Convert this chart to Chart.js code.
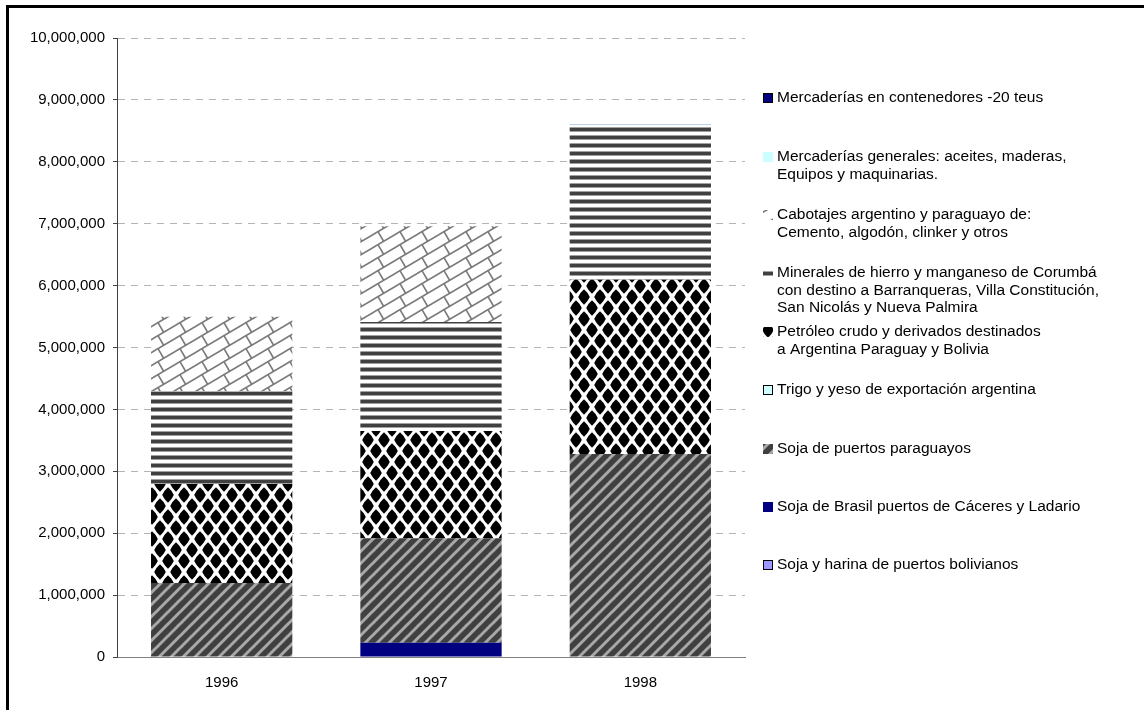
<!DOCTYPE html>
<html>
<head>
<meta charset="utf-8">
<script src="https://cdn.jsdelivr.net/npm/chart.js@4.4.0/dist/chart.umd.min.js"></script>
<style>
  html, body { margin: 0; padding: 0; background: #fff; }
  #contenedor { position: relative; width: 1144px; height: 710px; overflow: hidden; }
  #marco { position: absolute; left: 6px; top: 5px; width: 1300px; height: 900px; border: 3px solid #000; pointer-events: none; }
</style>
</head>
<body>
<div id="contenedor">
  <canvas id="grafico" width="1144" height="710"></canvas>
  <div id="marco"></div>
</div>
<script>
// datos (toneladas)
const anios = ['1996', '1997', '1998'];

const sojaBolivianos = [0, 0, 0];
const sojaBrasil = [0, 230000, 0];
const sojaParaguayos = [1195000, 1690000, 3280000];
const trigoYeso = [0, 0, 0];
const petroleo = [1600000, 1730000, 2815000];
const minerales = [1500000, 1760000, 2490000];
const cabotajes = [1200000, 1550000, 0];
const mercGenerales = [0, 0, 15000];
const contenedores = [0, 0, 3000];

const nombres = [
    ['Soja y harina de puertos bolivianos'],
    ['Soja de Brasil puertos de Cáceres y Ladario'],
    ['Soja de puertos paraguayos'],
    ['Trigo y yeso de exportación argentina'],
    ['Petróleo crudo y derivados destinados', 'a Argentina Paraguay y Bolivia'],
    ['Minerales de hierro y manganeso de Corumbá', 'con destino a Barranqueras, Villa Constitución,', 'San Nicolás y Nueva Palmira'],
    ['Cabotajes argentino y paraguayo de:', 'Cemento, algodón, clinker y otros'],
    ['Mercaderías generales: aceites, maderas,', 'Equipos y maquinarias.'],
    ['Mercaderías en contenedores -20 teus']
];

const yMax = 10000000;
const yPaso = 1000000;

var ctxGrafico = document.getElementById('grafico').getContext('2d');
var fuente = '"Liberation Sans", Arial, sans-serif';

function crearTrama(w, h, dibujar) {
    var c = document.createElement('canvas');
    c.width = w;
    c.height = h;
    var g = c.getContext('2d');
    dibujar(g, w, h);
    return ctxGrafico.createPattern(c, 'repeat');
}

// rayas diagonales grises
var tramaParaguayos = crearTrama(12, 12, function (g, w, h) {
    g.fillStyle = '#404040';
    g.fillRect(0, 0, w, h);
    g.strokeStyle = '#a8a8a8';
    g.lineWidth = 3;
    [-12, 0, 12].forEach(function (d) {
        g.beginPath();
        g.moveTo(d - 2, h + 2);
        g.lineTo(d + w + 2, -2);
        g.stroke();
    });
});

// rombos negros sobre blanco
var tramaPetroleo = crearTrama(16, 22, function (g, w, h) {
    g.fillStyle = '#ffffff';
    g.fillRect(0, 0, w, h);
    g.fillStyle = '#000000';
    var centros = [[0, 0], [16, 0], [0, 22], [16, 22], [8, 11]];
    var a = 5.8, b = 7.8, f = 0.62;
    centros.forEach(function (p) {
        var x = p[0], y = p[1];
        g.beginPath();
        g.moveTo(x, y - b);
        g.quadraticCurveTo(x + a * f, y - b * f, x + a, y);
        g.quadraticCurveTo(x + a * f, y + b * f, x, y + b);
        g.quadraticCurveTo(x - a * f, y + b * f, x - a, y);
        g.quadraticCurveTo(x - a * f, y - b * f, x, y - b);
        g.fill();
    });
});

// rayas horizontales
var tramaMinerales = crearTrama(8, 8, function (g, w, h) {
    g.fillStyle = '#ffffff';
    g.fillRect(0, 0, w, h);
    g.fillStyle = '#404040';
    g.fillRect(0, 0, w, 3);
    g.fillStyle = '#a0a0a0';
    g.fillRect(0, 3, w, 1);
    g.fillRect(0, 7, w, 1);
});

// enrejado tipo ladrillo
var tramaCabotajes = crearTrama(22, 13, function (g, w, h) {
    g.fillStyle = '#ffffff';
    g.fillRect(0, 0, w, h);
    g.strokeStyle = '#7a7a7a';
    g.lineWidth = 1.6;
    for (var k = -1; k <= 2; k++) {
        g.beginPath();
        g.moveTo(-w, h * k + h);
        g.lineTo(2 * w, h * k - 2 * h);
        g.stroke();
    }
    [-w, 0, w].forEach(function (dx) {
        [-h, 0, h].forEach(function (dy) {
            var x0 = 4 + dx;
            var y0 = h - h / w * 4 + dy;
            g.beginPath();
            g.moveTo(x0, y0);
            g.lineTo(x0 + 5.6, y0 + 9.6);
            g.stroke();
        });
    });
});

var colores = [
    '#9999ff',
    '#000080',
    tramaParaguayos,
    '#ccffff',
    tramaPetroleo,
    tramaMinerales,
    tramaCabotajes,
    '#ccffff',
    '#000080'
];
var bordeMuestra = [true, false, false, true, false, false, false, false, true];
var series = [sojaBolivianos, sojaBrasil, sojaParaguayos, trigoYeso, petroleo, minerales, cabotajes, mercGenerales, contenedores];

var leyenda = {
    id: 'leyenda',
    afterDraw: function (chart) {
        var ctx = chart.ctx;
        var posY = [98, 157, 215, 273, 332, 390, 449, 507, 565];
        ctx.save();
        ctx.font = '15.5px ' + fuente;
        ctx.textBaseline = 'middle';
        for (var i = 0; i < series.length; i++) {
            var idx = series.length - 1 - i;
            var y = posY[i];
            ctx.fillStyle = colores[idx];
            ctx.fillRect(763, y - 5, 10, 10);
            if (bordeMuestra[idx]) {
                ctx.strokeStyle = '#000';
                ctx.lineWidth = 1;
                ctx.strokeRect(763.5, y - 4.5, 9, 9);
            }
            ctx.fillStyle = '#000';
            nombres[idx].forEach(function (t, j) {
                ctx.fillText(t, 777, y + j * 17.5);
            });
        }
        ctx.restore();
    }
};

var datasets = series.map(function (valores, i) {
    return {
        label: nombres[i].join(' '),
        data: valores,
        backgroundColor: colores[i],
        borderWidth: 0,
        barPercentage: 0.675,
        categoryPercentage: 1
    };
});

var grafico = new Chart(ctxGrafico, {
    type: 'bar',
    data: {
        labels: anios,
        datasets: datasets
    },
    options: {
        responsive: false,
        animation: false,
        layout: {
            padding: { left: 0, top: 38, right: 399, bottom: 0 }
        },
        scales: {
            x: {
                stacked: true,
                grid: { display: false },
                border: { display: true, color: '#808080', width: 1 },
                ticks: {
                    color: '#000',
                    padding: 9,
                    font: { family: fuente, size: 15 }
                },
                afterFit: function (scale) { scale.height = 53; }
            },
            y: {
                stacked: true,
                min: 0,
                max: yMax,
                ticks: {
                    stepSize: yPaso,
                    color: '#000',
                    padding: 8,
                    font: { family: fuente, size: 15 },
                    callback: function (v) { return v.toLocaleString('en-US'); }
                },
                grid: {
                    color: '#b4b4b4',
                    lineWidth: 1,
                    tickLength: 4,
                    tickColor: '#404040'
                },
                border: { display: true, color: '#404040', width: 1, dash: [7, 6] },
                afterFit: function (scale) { scale.width = 117; }
            }
        },
        plugins: {
            legend: { display: false },
            tooltip: { enabled: false }
        }
    },
    plugins: [leyenda]
});
</script>
</body>
</html>
